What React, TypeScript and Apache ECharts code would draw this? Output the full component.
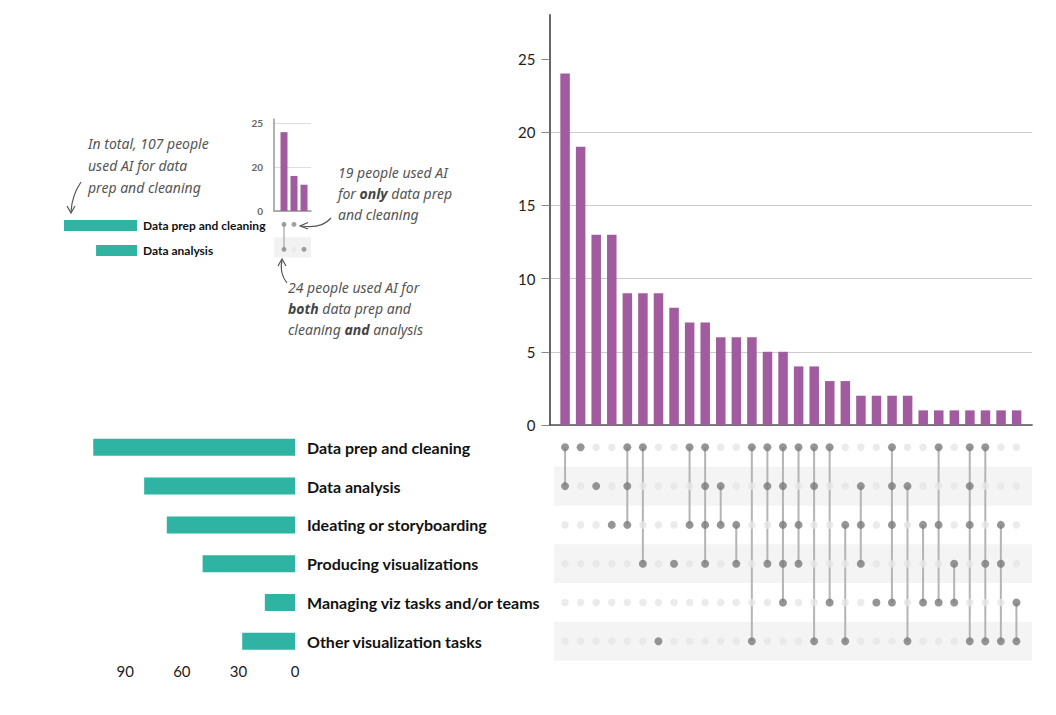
import React, { useEffect, useRef } from 'react';
import * as echarts from 'echarts';

// sets, from top row to bottom row
const setNames = [
  'Data prep and cleaning',
  'Data analysis',
  'Ideating or storyboarding',
  'Producing visualizations',
  'Managing viz tasks and/or teams',
  'Other visualization tasks',
];
const setTotals = [107, 80, 68, 49, 16, 28];
const setTicks = [0, 30, 60, 90];

// intersections, left to right
const intersectionSizes = [24, 19, 13, 13, 9, 9, 9, 8, 7, 7, 6, 6, 6, 5, 5, 4, 4, 3, 3, 2, 2, 2, 2, 1, 1, 1, 1, 1, 1, 1];
const intersectionMembers = [
  [0, 1], [0], [1], [2], [0, 1, 2], [0, 3], [5], [3], [0, 2], [0, 1, 2, 3],
  [1, 2], [2, 3], [0, 5], [0, 1, 3], [0, 1, 2, 3, 4], [0, 2, 3], [0, 1, 5], [0, 4], [2, 5], [1, 2, 3],
  [4], [0, 1, 2, 4], [1, 5], [2, 4], [0, 2, 4], [3, 4], [0, 1, 2, 5], [0, 3, 5], [2, 3, 5], [4, 5],
];
const sizeTicks = [0, 5, 10, 15, 20, 25];

// small explanatory inset (drawn on a broken axis in the original)
const insetNames = ['Data prep and cleaning', 'Data analysis'];
const insetTotals = [107, 60];
const insetSizes = [24, 19, 18];
const insetMembers = [[0, 1], [0], [1]];
const insetTicks = [15, 20, 25];

const noteTotal = ['In total, 107 people', 'used AI for data', 'prep and cleaning'];
const noteOnly = ['19 people used AI', 'for {b|only} data prep', 'and cleaning'];
const noteBoth = ['24 people used AI for', '{b|both} data prep and', 'cleaning {b|and} analysis'];

const PURPLE = '#a05c9e';
const TEAL = '#2fb3a3';
const DOT_ON = '#7b7b7b';
const DOT_OFF = '#e6e6e6';
const FONT = 'Lato, "Open Sans", sans-serif';
const NOTE_FONT = '"Noto Sans", "Open Sans", sans-serif';

const matrixPoints = (members: number[][], rows: number, on: boolean) => {
  const pts: number[][] = [];
  members.forEach((m, i) => {
    for (let r = 0; r < rows; r++) {
      if (m.includes(r) === on) pts.push([i, r]);
    }
  });
  return pts;
};

const matrixLinks = (members: number[][]) =>
  members.filter((m) => m.length > 1).map((m) => [members.indexOf(m), Math.min(...m), Math.max(...m)]);

const linkRenderer = (width: number) => (params: any, api: any) => {
  const p1 = api.coord([api.value(0), api.value(1)]);
  const p2 = api.coord([api.value(0), api.value(2)]);
  return {
    type: 'line',
    shape: { x1: p1[0], y1: p1[1], x2: p2[0], y2: p2[1] },
    style: { stroke: '#b4b4b4', lineWidth: width },
  };
};

const noteLines = (lines: string[], x: number, y: number, gap: number) =>
  lines.map((t, i) => ({
    type: 'text',
    x,
    y: y + i * gap,
    style: {
      text: t,
      fill: '#555',
      font: `italic 14px ${NOTE_FONT}`,
      verticalAlign: 'middle',
      rich: { b: { fontWeight: 'bold', fontStyle: 'italic', fontSize: 14, fontFamily: NOTE_FONT, fill: '#444' } },
    },
  }));

const arrowStyle = { stroke: '#555', lineWidth: 1.2, fill: 'none' };

const App: React.FC = () => {
  const chartRef = useRef<HTMLDivElement | null>(null);

  useEffect(() => {
    if (!chartRef.current) return;
    const chart = echarts.init(chartRef.current, undefined, { renderer: 'svg' });

    const option: any = {
      animation: false,
      textStyle: { fontFamily: FONT },
      grid: [
        { left: 549.5, top: 15, width: 482.7, height: 410 },
        { left: 554, top: 427.9, width: 478, height: 232.8 },
        { left: 87.6, top: 427.9, width: 207.4, height: 232.8 },
        { left: 274, top: 119, width: 37, height: 92 },
        { left: 274, top: 211.8, width: 37, height: 50 },
        { left: 64, top: 213, width: 73, height: 50 },
      ],
      xAxis: [
        {
          gridIndex: 0, type: 'value', min: -1, max: 30,
          axisLine: { show: true, onZero: false, lineStyle: { color: '#555', width: 1.5 } },
          axisTick: { show: false }, axisLabel: { show: false }, splitLine: { show: false },
        },
        { gridIndex: 1, type: 'value', min: -0.71, max: 30, show: false },
        {
          gridIndex: 2, type: 'value', inverse: true, min: 0, max: 110, interval: 30,
          axisLine: { show: false }, axisTick: { show: false }, splitLine: { show: false },
          axisLabel: { customValues: setTicks, color: '#222', fontSize: 15, margin: 3 },
        },
        {
          gridIndex: 3, type: 'value', min: -1, max: 2.7,
          axisLine: { show: true, onZero: false, lineStyle: { color: '#999', width: 1.5 } },
          axisTick: { show: false }, axisLabel: { show: false }, splitLine: { show: false },
        },
        { gridIndex: 4, type: 'value', min: -1, max: 2.7, show: false },
        { gridIndex: 5, type: 'value', inverse: true, min: 0, max: 107, show: false },
      ],
      yAxis: [
        {
          gridIndex: 0, type: 'value', min: 0, max: 28, interval: 5,
          axisLine: { show: true, onZero: false, lineStyle: { color: '#666', width: 2 } },
          axisTick: { show: true, customValues: sizeTicks, length: 8, lineStyle: { color: '#888' } },
          axisLabel: { customValues: sizeTicks, color: '#222', fontSize: 15, margin: 14 },
          splitLine: { show: true, showMaxLine: false, lineStyle: { color: '#cccccc' } },
        },
        { gridIndex: 1, type: 'value', inverse: true, min: -0.5, max: 5.5, show: false },
        {
          gridIndex: 2, type: 'category', inverse: true, position: 'right', data: setNames,
          axisLine: { show: false, onZero: false }, axisTick: { show: false },
          axisLabel: { color: '#111', fontWeight: 'bold', fontSize: 16, margin: 12, align: 'left' },
        },
        {
          gridIndex: 3, type: 'value', min: 15, max: 25.5, interval: 5,
          axisLine: { show: true, onZero: false, lineStyle: { color: '#999', width: 1.5 } },
          axisTick: { show: false },
          axisLabel: {
            customValues: insetTicks, color: '#666', fontSize: 10, fontWeight: 'bold', margin: 11,
            formatter: (v: number) => (v === 15 ? '0' : String(v)),
          },
          splitLine: { show: true, showMaxLine: false, lineStyle: { color: '#dddddd' } },
        },
        { gridIndex: 4, type: 'value', inverse: true, min: -0.5, max: 1.5, show: false },
        {
          gridIndex: 5, type: 'category', inverse: true, position: 'right', data: insetNames,
          axisLine: { show: false, onZero: false }, axisTick: { show: false },
          axisLabel: { color: '#111', fontWeight: 'bold', fontSize: 12, margin: 6, align: 'left' },
        },
      ],
      series: [
        {
          type: 'bar', xAxisIndex: 0, yAxisIndex: 0, barWidth: 9.5,
          itemStyle: { color: PURPLE },
          data: intersectionSizes.map((v, i) => [i, v]),
        },
        {
          type: 'scatter', xAxisIndex: 1, yAxisIndex: 1, symbolSize: 7.5, silent: true,
          itemStyle: { color: DOT_OFF },
          data: matrixPoints(intersectionMembers, setNames.length, false),
          markArea: {
            silent: true,
            itemStyle: { color: '#f4f4f4' },
            data: [1, 3, 5].map((r) => [{ yAxis: r - 0.5 }, { yAxis: r + 0.5 }]),
          },
        },
        {
          type: 'custom', xAxisIndex: 1, yAxisIndex: 1, silent: true,
          renderItem: linkRenderer(2),
          encode: { x: 0, y: [1, 2] },
          data: matrixLinks(intersectionMembers),
        },
        {
          type: 'scatter', xAxisIndex: 1, yAxisIndex: 1, symbolSize: 8, silent: true,
          itemStyle: { color: DOT_ON },
          data: matrixPoints(intersectionMembers, setNames.length, true),
        },
        {
          type: 'bar', xAxisIndex: 2, yAxisIndex: 2, barWidth: 17,
          itemStyle: { color: TEAL },
          data: setTotals,
        },
        {
          type: 'bar', xAxisIndex: 3, yAxisIndex: 3, barWidth: 7,
          itemStyle: { color: PURPLE },
          data: insetSizes.map((v, i) => [i, v]),
        },
        {
          type: 'scatter', xAxisIndex: 4, yAxisIndex: 4, symbolSize: 5, silent: true,
          itemStyle: { color: DOT_OFF },
          data: matrixPoints(insetMembers, 2, false).filter((p) => p[1] === 1),
          markArea: {
            silent: true,
            itemStyle: { color: '#f2f2f2' },
            data: [[{ yAxis: 0.52 }, { yAxis: 1.33 }]],
          },
        },
        {
          type: 'custom', xAxisIndex: 4, yAxisIndex: 4, silent: true,
          renderItem: linkRenderer(1.5),
          encode: { x: 0, y: [1, 2] },
          data: matrixLinks(insetMembers),
        },
        {
          type: 'scatter', xAxisIndex: 4, yAxisIndex: 4, symbolSize: 5, silent: true,
          itemStyle: { color: '#888' },
          data: matrixPoints(insetMembers, 2, true),
        },
        {
          type: 'bar', xAxisIndex: 5, yAxisIndex: 5, barWidth: 11,
          itemStyle: { color: TEAL },
          data: insetTotals,
        },
      ],
      graphic: [
        ...noteLines(noteTotal, 88, 143, 22),
        ...noteLines(noteOnly, 338, 172, 21),
        ...noteLines(noteBoth, 288, 287, 21),
        { type: 'bezierCurve', shape: { x1: 81, y1: 182, cpx1: 72, cpy1: 195, x2: 71, y2: 212 }, style: arrowStyle },
        { type: 'polyline', shape: { points: [[67, 206], [71, 213], [75, 206]] }, style: arrowStyle },
        { type: 'bezierCurve', shape: { x1: 331, y1: 218, cpx1: 322, cpy1: 229, x2: 301, y2: 226 }, style: arrowStyle },
        { type: 'polyline', shape: { points: [[308, 222.5], [300, 226], [308, 229]] }, style: arrowStyle },
        { type: 'bezierCurve', shape: { x1: 287, y1: 283, cpx1: 279, cpy1: 273, x2: 282, y2: 260 }, style: arrowStyle },
        { type: 'polyline', shape: { points: [[278, 266], [282, 259], [286, 266]] }, style: arrowStyle },
      ],
    };

    chart.setOption(option);
    return () => {
      chart.dispose();
    };
  }, []);

  return <div ref={chartRef} style={{ position: 'absolute', left: 0, top: 0, width: 1056, height: 715 }} />;
};

export default App;
